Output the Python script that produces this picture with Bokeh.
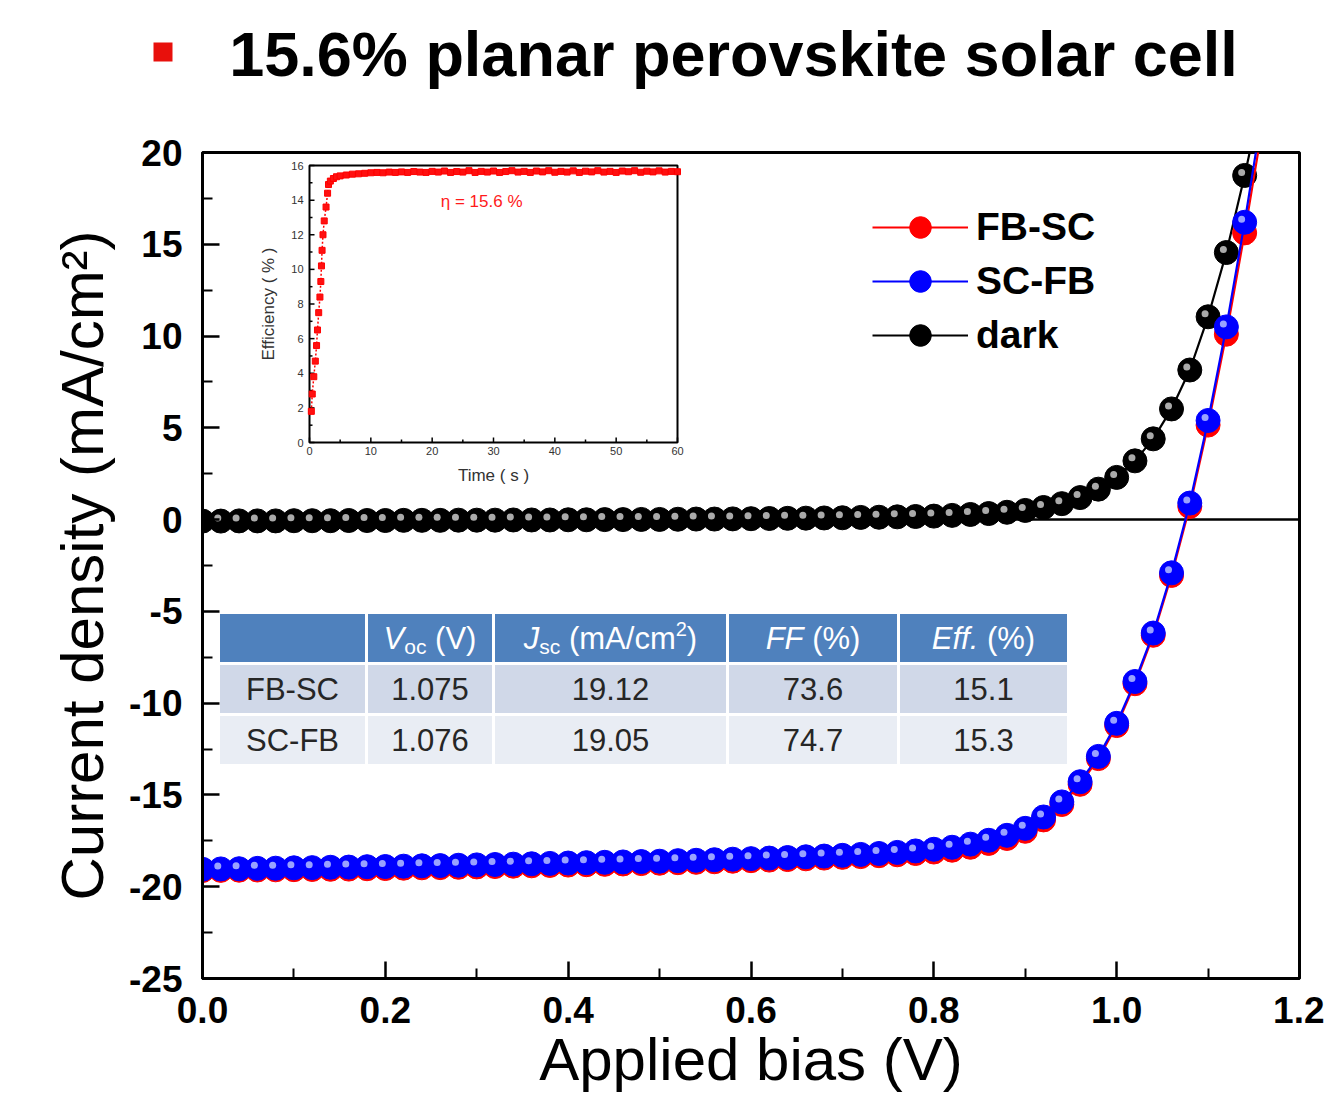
import math
from bokeh.plotting import figure
from bokeh.models import Range1d, FixedTicker, PrintfTickFormatter, Span, Legend, LegendItem
from bokeh.layouts import column
from bokeh.embed import file_html
from bokeh.resources import INLINE
from bokeh.core.properties import value

FONT = "Liberation Sans"
TITLE = "15.6% planar perovskite solar cell"
X_LABEL = "Applied bias (V)"
Y_LABEL = "Current density (mA/cm\u00b2)"

# ---------------- main J-V data ----------------
bias_v = [0.00, 0.02, 0.04, 0.06, 0.08, 0.10, 0.12, 0.14, 0.16, 0.18,
          0.20, 0.22, 0.24, 0.26, 0.28, 0.30, 0.32, 0.34, 0.36, 0.38,
          0.40, 0.42, 0.44, 0.46, 0.48, 0.50, 0.52, 0.54, 0.56, 0.58,
          0.60, 0.62, 0.64, 0.66, 0.68, 0.70, 0.72, 0.74, 0.76, 0.78,
          0.80, 0.82, 0.84, 0.86, 0.88, 0.90, 0.92, 0.94, 0.96, 0.98,
          1.00, 1.02, 1.04, 1.06, 1.08, 1.10, 1.12, 1.14, 1.16]

j_fb_sc = [-19.12, -19.11, -19.10, -19.09, -19.08, -19.07, -19.06, -19.05, -19.04, -19.02,
           -19.01, -18.99, -18.97, -18.96, -18.94, -18.92, -18.90, -18.88, -18.86, -18.84,
           -18.82, -18.80, -18.78, -18.76, -18.74, -18.72, -18.69, -18.67, -18.64, -18.61,
           -18.58, -18.55, -18.52, -18.48, -18.44, -18.40, -18.36, -18.31, -18.26, -18.19,
           -18.11, -18.01, -17.85, -17.64, -17.37, -16.98, -16.36, -15.52, -14.42, -13.02,
           -11.22, -8.94, -6.30, -3.04, 0.72, 5.15, 10.10, 15.62, 21.60]

j_sc_fb = [-19.05, -19.03, -19.02, -19.00, -18.99, -18.97, -18.96, -18.94, -18.93, -18.91,
           -18.90, -18.88, -18.86, -18.85, -18.83, -18.81, -18.79, -18.77, -18.75, -18.73,
           -18.71, -18.69, -18.67, -18.65, -18.63, -18.61, -18.58, -18.56, -18.53, -18.50,
           -18.47, -18.44, -18.41, -18.37, -18.33, -18.29, -18.24, -18.19, -18.13, -18.05,
           -17.96, -17.85, -17.68, -17.47, -17.20, -16.82, -16.20, -15.38, -14.28, -12.90,
           -11.10, -8.82, -6.18, -2.90, 0.90, 5.40, 10.50, 16.20, 22.40]

j_dark = [-0.08, -0.08, -0.07, -0.07, -0.07, -0.06, -0.06, -0.06, -0.05, -0.05,
          -0.05, -0.04, -0.04, -0.04, -0.03, -0.03, -0.03, -0.02, -0.02, -0.02,
          -0.01, -0.01, 0.00, 0.00, 0.01, 0.01, 0.02, 0.03, 0.03, 0.04,
          0.05, 0.06, 0.07, 0.08, 0.09, 0.10, 0.12, 0.13, 0.15, 0.17,
          0.19, 0.23, 0.28, 0.33, 0.40, 0.50, 0.66, 0.87, 1.20, 1.66,
          2.30, 3.20, 4.40, 6.03, 8.15, 11.05, 14.55, 18.75, 23.30]

series_names = ["FB-SC", "SC-FB", "dark"]
series_colors = ["#ff0000", "#0000ff", "#000000"]
highlight_colors = ["#ffb3b3", "#aab4ff", "#bdbdbd"]

x_ticks = [0.0, 0.2, 0.4, 0.6, 0.8, 1.0, 1.2]
x_minor = [0.1, 0.3, 0.5, 0.7, 0.9, 1.1]
y_ticks = [-25, -20, -15, -10, -5, 0, 5, 10, 15, 20]
y_minor = [-22.5, -17.5, -12.5, -7.5, -2.5, 2.5, 7.5, 12.5, 17.5]

# ---------------- inset (efficiency vs time) ----------------
rise_time = [0.30, 0.45, 0.70, 0.95, 1.15, 1.30, 1.50, 1.70, 1.85, 1.95,
             2.05, 2.20, 2.40, 2.70, 2.95, 3.10, 3.40, 3.90, 4.40]
rise_eff = [1.8, 2.8, 3.8, 4.7, 5.6, 6.5, 7.5, 8.4, 9.3, 10.2,
            11.1, 12.0, 12.8, 13.6, 14.4, 14.9, 15.1, 15.25, 15.35]
flat_time = [5, 6, 7, 8, 9, 10, 11, 12, 13, 14,
             15, 16, 17, 18, 19, 20, 21, 22, 23, 24,
             25, 26, 27, 28, 29, 30, 31, 32, 33, 34,
             35, 36, 37, 38, 39, 40, 41, 42, 43, 44,
             45, 46, 47, 48, 49, 50, 51, 52, 53, 54,
             55, 56, 57, 58, 59, 60]
flat_eff = [15.40, 15.45, 15.50, 15.52, 15.55, 15.58, 15.60, 15.58, 15.62, 15.60,
            15.63, 15.60, 15.65, 15.62, 15.60, 15.66, 15.62, 15.68, 15.60, 15.65,
            15.62, 15.70, 15.60, 15.66, 15.62, 15.68, 15.60, 15.65, 15.70, 15.62,
            15.66, 15.60, 15.68, 15.63, 15.70, 15.61, 15.66, 15.62, 15.69, 15.60,
            15.67, 15.63, 15.70, 15.62, 15.66, 15.60, 15.68, 15.64, 15.70, 15.61,
            15.67, 15.63, 15.69, 15.62, 15.66, 15.64]
inset_x_ticks = [0, 10, 20, 30, 40, 50, 60]
inset_x_minor = [5, 15, 25, 35, 45, 55]
inset_y_ticks = [0, 2, 4, 6, 8, 10, 12, 14, 16]
inset_y_minor = [1, 3, 5, 7, 9, 11, 13, 15]
inset_x_label = "Time ( s )"
inset_y_label = "Efficiency ( % )"
eta_label = "\u03b7 = 15.6 %"
eta_pos = (21.4, 13.9)

# ---------------- table ----------------
# pieces: (text, style, size, vertical shift px, space before?)
table_header = [
    [],
    [("V", "italic", 31, 0, False), ("oc", "normal", 21, 8, False), ("(V)", "normal", 31, 0, True)],
    [("J", "italic", 31, 0, False), ("sc", "normal", 21, 8, False), ("(mA/cm", "normal", 31, 0, True),
     ("2", "normal", 20, -9, False), (")", "normal", 31, 0, False)],
    [("FF", "italic", 31, 0, False), ("(%)", "normal", 31, 0, True)],
    [("Eff.", "italic", 31, 0, False), ("(%)", "normal", 31, 0, True)],
]
table_rows = ["FB-SC", "SC-FB"]
table_voc = ["1.075", "1.076"]
table_jsc = ["19.12", "19.05"]
table_ff = ["73.6", "74.7"]
table_eff = ["15.1", "15.3"]

# ---------------- layout constants (page pixels) ----------------
W, H = 1324, 1106
TITLE_H = 110
FL, FR, FT, FB = 202, 1299, 152, 978
IN_L, IN_R, IN_T, IN_B = 309, 677, 165, 442
COL_EDGES = [218, 366, 493, 727, 898, 1068]
ROW_EDGES = [612, 663, 714, 765]

CHAR_W = {' ': 278, '(': 333, ')': 333, '%': 889, '.': 278, '/': 278, '2': 556,
          'A': 667, 'E': 667, 'F': 611, 'J': 500, 'V': 667, 'c': 500, 'f': 278,
          'm': 833, 'o': 556, 's': 500}


def measure(text, size):
    return sum(CHAR_W.get(ch, 556) for ch in text) * size / 1000.0


# ---------------- title strip ----------------
tp = figure(width=W, height=TITLE_H, x_range=Range1d(0, W), y_range=Range1d(TITLE_H, 0),
            output_backend="svg", toolbar_location=None, min_border=0,
            x_axis_location=None, y_axis_location=None)
tp.frame_align = False
tp.outline_line_color = None
tp.grid.visible = False
tp.background_fill_color = "white"
tp.border_fill_color = "white"
tp.quad(left=[153], right=[172], top=[42], bottom=[61], fill_color="#e8100c", line_color=None)
tp.text(x=[733], y=[53], text=[TITLE], text_align="center", text_baseline="middle",
        text_font=value(FONT), text_font_style="bold", text_font_size="63px", text_color="black")

# ---------------- main figure ----------------
p = figure(width=W, height=H - TITLE_H, frame_width=FR - FL, frame_height=FB - FT,
           x_range=Range1d(x_ticks[0], x_ticks[-1]), y_range=Range1d(y_ticks[0], y_ticks[-1]),
           output_backend="svg", toolbar_location=None,
           min_border_left=FL, min_border_right=W - FR,
           min_border_top=FT - TITLE_H, min_border_bottom=H - FB)
p.frame_align = False
p.background_fill_color = "white"
p.border_fill_color = "white"
p.grid.visible = False
p.outline_line_color = "black"
p.outline_line_width = 3
p.outline_line_alpha = 1.0

p.xaxis.ticker = FixedTicker(ticks=x_ticks, minor_ticks=x_minor)
p.yaxis.ticker = FixedTicker(ticks=y_ticks, minor_ticks=y_minor)
p.xaxis.formatter = PrintfTickFormatter(format="%.1f")
p.yaxis.formatter = PrintfTickFormatter(format="%d")
for ax in (p.xaxis[0], p.yaxis[0]):
    ax.axis_line_width = 3
    ax.axis_line_color = "black"
    ax.major_tick_in = 17
    ax.major_tick_out = 0
    ax.minor_tick_in = 10
    ax.minor_tick_out = 0
    ax.major_tick_line_width = 2.5
    ax.minor_tick_line_width = 2
    ax.major_tick_line_color = "black"
    ax.minor_tick_line_color = "black"
    ax.major_label_text_font = FONT
    ax.major_label_text_font_style = "bold"
    ax.major_label_text_font_size = "37px"
    ax.major_label_text_color = "black"
    ax.axis_label_text_font = FONT
    ax.axis_label_text_font_style = "normal"
    ax.axis_label_text_font_size = "60px"
    ax.axis_label_text_color = "black"
p.xaxis.axis_label = X_LABEL
p.yaxis.axis_label = Y_LABEL
p.xaxis.major_label_standoff = 18
p.xaxis.axis_label_standoff = 0
p.yaxis.major_label_standoff = 20
p.yaxis.axis_label_standoff = 10

# extra ranges: page-pixel space and inset space
t_per_px = (inset_x_ticks[-1] - inset_x_ticks[0]) / (IN_R - IN_L)
e_per_px = (inset_y_ticks[-1] - inset_y_ticks[0]) / (IN_B - IN_T)
p.extra_x_ranges = {
    "px": Range1d(FL, FR),
    "tx": Range1d(inset_x_ticks[0] - (IN_L - FL) * t_per_px, inset_x_ticks[-1] + (FR - IN_R) * t_per_px),
}
p.extra_y_ranges = {
    "py": Range1d(FB, FT),
    "ty": Range1d(inset_y_ticks[0] - (FB - IN_B) * e_per_px, inset_y_ticks[-1] + (IN_T - FT) * e_per_px),
}

# zero line
p.add_layout(Span(location=0, dimension="width", line_color="black", line_width=2.5, level="underlay"))

# J-V curves
x_per_px = (x_ticks[-1] - x_ticks[0]) / (FR - FL)
y_per_px = (y_ticks[-1] - y_ticks[0]) / (FB - FT)
series_j = {"FB-SC": j_fb_sc, "SC-FB": j_sc_fb, "dark": j_dark}
legend_items = {}
for name in ["dark", "FB-SC", "SC-FB"]:
    i = series_names.index(name)
    js = series_j[name]
    col = series_colors[i]
    ln = p.line(bias_v, js, line_color=col, line_width=2.2)
    balls = p.scatter(bias_v, js, marker="circle", size=24, fill_color=col, line_color=col, line_width=1)
    hx = [v - 3 * x_per_px for v in bias_v]
    hy = [j + 3 * y_per_px for j in js]
    p.scatter(hx, hy, marker="circle", size=7, fill_color=highlight_colors[i], fill_alpha=0.9,
              line_color=None)
    legend_items[name] = LegendItem(label=name, renderers=[ln, balls])

legend = Legend(items=[legend_items[n] for n in series_names], location=(670, 616),
                glyph_width=96, glyph_height=54, label_height=54, spacing=0, padding=0, margin=0,
                label_standoff=8, label_text_font=FONT, label_text_font_style="bold",
                label_text_font_size="39px", label_text_color="black",
                background_fill_alpha=0, border_line_alpha=0)
p.add_layout(legend)

# ---------------- inset ----------------
IR = dict(x_range_name="tx", y_range_name="ty")
p.quad(left=[inset_x_ticks[0]], right=[inset_x_ticks[-1]], bottom=[inset_y_ticks[0]], top=[inset_y_ticks[-1]],
       fill_color="white", line_color="black", line_width=2, **IR)
n = len(inset_x_ticks)
p.segment(x0=inset_x_ticks, x1=inset_x_ticks, y0=[inset_y_ticks[0]] * n,
          y1=[inset_y_ticks[0] + 5 * e_per_px] * n, line_color="black", line_width=1.5, **IR)
m = len(inset_x_minor)
p.segment(x0=inset_x_minor, x1=inset_x_minor, y0=[inset_y_ticks[0]] * m,
          y1=[inset_y_ticks[0] + 3 * e_per_px] * m, line_color="black", line_width=1.5, **IR)
n = len(inset_y_ticks)
p.segment(x0=[inset_x_ticks[0]] * n, x1=[inset_x_ticks[0] + 5 * t_per_px] * n, y0=inset_y_ticks,
          y1=inset_y_ticks, line_color="black", line_width=1.5, **IR)
m = len(inset_y_minor)
p.segment(x0=[inset_x_ticks[0]] * m, x1=[inset_x_ticks[0] + 3 * t_per_px] * m, y0=inset_y_minor,
          y1=inset_y_minor, line_color="black", line_width=1.5, **IR)
p.text(x=inset_x_ticks, y=[inset_y_ticks[0]] * len(inset_x_ticks), text=[str(t) for t in inset_x_ticks],
       y_offset=4, text_align="center", text_baseline="top", text_font=value(FONT),
       text_font_size="11px", text_color="#333333", **IR)
p.text(x=[inset_x_ticks[0]] * len(inset_y_ticks), y=inset_y_ticks, text=[str(t) for t in inset_y_ticks],
       x_offset=-6, text_align="right", text_baseline="middle", text_font=value(FONT),
       text_font_size="11px", text_color="#333333", **IR)
p.text(x=[(inset_x_ticks[0] + inset_x_ticks[-1]) / 2], y=[inset_y_ticks[0]], text=[inset_x_label],
       y_offset=33, text_align="center", text_baseline="middle", text_font=value(FONT),
       text_font_size="17px", text_color="#333333", **IR)
p.text(x=[inset_x_ticks[0]], y=[(inset_y_ticks[0] + inset_y_ticks[-1]) / 2], text=[inset_y_label],
       x_offset=-41, angle=math.pi / 2, text_align="center", text_baseline="middle",
       text_font=value(FONT), text_font_size="17px", text_color="#333333", **IR)
eff_time = rise_time + flat_time
eff_value = rise_eff + flat_eff
p.line(eff_time, eff_value, line_color="#ff0000", line_width=1.5, line_dash="2 2", **IR)
p.scatter(eff_time, eff_value, marker="square", size=6, fill_color="#ff1010", line_color="#ff0000", **IR)
p.text(x=[eta_pos[0]], y=[eta_pos[1]], text=[eta_label], text_align="left", text_baseline="middle",
       text_font=value(FONT), text_font_size="17px", text_color="#ff1a1a", **IR)

# ---------------- table ----------------
PR = dict(x_range_name="px", y_range_name="py")
row_fills = ["#4f81bd", "#d0d8e8", "#e9edf4"]
lefts, rights, tops, bottoms, fills = [], [], [], [], []
for r in range(3):
    for c in range(5):
        lefts.append(COL_EDGES[c]); rights.append(COL_EDGES[c + 1])
        tops.append(ROW_EDGES[r]); bottoms.append(ROW_EDGES[r + 1])
        fills.append(row_fills[r])
p.quad(left=lefts, right=rights, top=tops, bottom=bottoms, fill_color=fills,
       line_color="white", line_width=3, **PR)

cy_head = (ROW_EDGES[0] + ROW_EDGES[1]) / 2
for c, pieces in enumerate(table_header):
    if not pieces:
        continue
    cx = (COL_EDGES[c] + COL_EDGES[c + 1]) / 2
    total = sum(measure(t, s) + (measure(" ", s) if sp else 0) for t, _, s, _, sp in pieces)
    x = cx - total / 2
    for t, style, s, shift, sp in pieces:
        if sp:
            x += measure(" ", s)
        p.text(x=[x], y=[cy_head + shift], text=[t], text_align="left", text_baseline="middle",
               text_font=value(FONT), text_font_style=style, text_font_size=f"{s}px",
               text_color="white", **PR)
        x += measure(t, s)

columns = [table_rows, table_voc, table_jsc, table_ff, table_eff]
tx_, ty_, tt_ = [], [], []
for r in range(len(table_rows)):
    cy = (ROW_EDGES[r + 1] + ROW_EDGES[r + 2]) / 2
    for c, col in enumerate(columns):
        tx_.append((COL_EDGES[c] + COL_EDGES[c + 1]) / 2)
        ty_.append(cy)
        tt_.append(col[r])
p.text(x=tx_, y=ty_, text=tt_, text_align="center", text_baseline="middle",
       text_font=value(FONT), text_font_size="31px", text_color="#262626", **PR)

layout = column(tp, p, spacing=0)
open("out.html", "w").write(file_html(layout, INLINE, title=TITLE))
